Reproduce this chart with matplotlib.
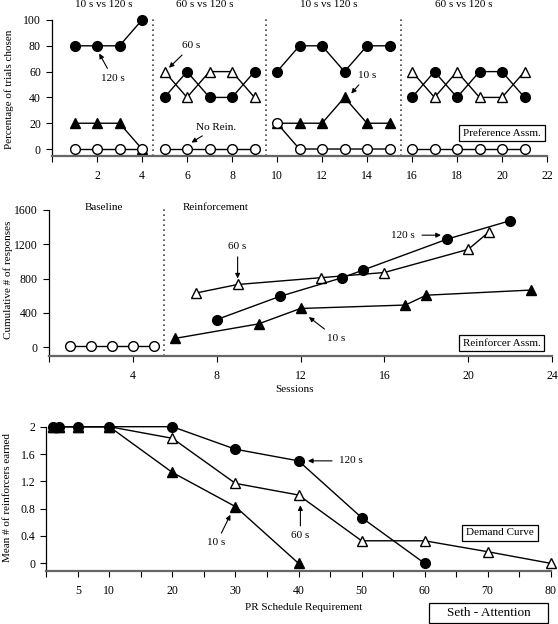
import matplotlib
matplotlib.use("Agg")
import matplotlib.pyplot as plt
from matplotlib.patches import Rectangle
import numpy as np

plt.rcParams['font.family'] = ['Liberation Serif', 'DejaVu Serif']
plt.rcParams['font.size'] = 8

# ---- Preference assessment (top) ----
pref_sessions = np.arange(1, 22)
pref_120 = [80, 80, 80, 100, 40, 60, 40, 40, 60, 60, 80, 80, 60, 80, 80, 40, 60, 40, 60, 60, 40]
pref_60_x = [5, 6, 7, 8, 9, 16, 17, 18, 19, 20, 21]
pref_60 = [60, 40, 60, 60, 40, 60, 40, 60, 40, 40, 60]
pref_10_x = [1, 2, 3, 4, 10, 11, 12, 13, 14, 15]
pref_10 = [20, 20, 20, 0, 20, 20, 20, 40, 20, 20]
pref_norein = [0, 0, 0, 0, 0, 0, 0, 0, 0, 20, 0, 0, 0, 0, 0, 0, 0, 0, 0, 0, 0]
pref_phases = [(1, 4), (5, 9), (10, 15), (16, 21)]
pref_phase_labels = ["10 s vs 120 s", "60 s vs 120 s", "10 s vs 120 s", "60 s vs 120 s"]
pref_phase_lines = [4.5, 9.5, 15.5]

# ---- Reinforcer assessment (middle) ----
base_x = [1, 2, 3, 4, 5]
base_y = [10, 10, 10, 10, 10]
r120_x = [8, 11, 14, 15, 19, 22]
r120_y = [320, 590, 810, 900, 1260, 1475]
r60_x = [7, 9, 13, 16, 20, 21]
r60_y = [630, 730, 810, 870, 1140, 1345]
r10_x = [6, 10, 12, 17, 18, 23]
r10_y = [100, 270, 450, 490, 605, 665]

# ---- Demand curve (bottom) ----
pr_120_x = [1, 2, 5, 10, 20, 30, 40, 50, 60]
pr_120_y = [2, 2, 2, 2, 2, 1.67, 1.5, 0.67, 0]
pr_60_x = [1, 2, 5, 10, 20, 30, 40, 50, 60, 70, 80]
pr_60_y = [2, 2, 2, 2, 1.83, 1.17, 1.0, 0.33, 0.33, 0.17, 0]
pr_10_x = [1, 2, 5, 10, 20, 30, 40]
pr_10_y = [2, 2, 2, 2, 1.33, 0.83, 0]

W, H = 558, 624
fig = plt.figure(figsize=(W / 100, H / 100), dpi=100)


def axes_px(left, right, bottom, top):
    return fig.add_axes([left / W, 1 - bottom / H, (right - left) / W, (bottom - top) / H])


def style(ax):
    for s in ['top', 'right']:
        ax.spines[s].set_visible(False)
    ax.spines['left'].set_linewidth(0.9)
    ax.spines['bottom'].set_color('#666666')
    ax.spines['bottom'].set_linewidth(1.6)
    ax.tick_params(direction='out', length=4, width=0.8, labelsize=8.5, pad=4)
    ax.tick_params(axis='x', pad=6)


mk = dict(markersize=7, markeredgewidth=1.0, clip_on=False, zorder=3)
circ_f = dict(marker='o', color='black', mfc='black', mec='black', **mk)
circ_o = dict(marker='o', color='black', mfc='white', mec='black', **mk)
tri_f = dict(marker='^', color='black', mfc='black', mec='black', **mk)
tri_o = dict(marker='^', color='black', mfc='white', mec='black', **mk)
arrow = dict(arrowstyle='-|>', color='black', lw=0.8, mutation_scale=7, shrinkA=2, shrinkB=0)
boxstyle = dict(boxstyle='square,pad=0.35', fc='white', ec='black', lw=0.9)

# ================= Top =================
ax1 = axes_px(52, 547, 156, 20)
style(ax1)
sess = list(pref_sessions)
for a, b in pref_phases:
    i0, i1 = sess.index(a), sess.index(b) + 1
    ax1.plot(sess[i0:i1], pref_120[i0:i1], lw=1, **circ_f)
    ax1.plot(sess[i0:i1], pref_norein[i0:i1], lw=1, **circ_o)
    xs = [x for x in pref_60_x if a <= x <= b]
    ys = [y for x, y in zip(pref_60_x, pref_60) if a <= x <= b]
    if xs:
        ax1.plot(xs, ys, lw=1, **tri_o)
    xs = [x for x in pref_10_x if a <= x <= b]
    ys = [y for x, y in zip(pref_10_x, pref_10) if a <= x <= b]
    if xs:
        ax1.plot(xs, ys, lw=1, zorder=2, **{k: v for k, v in tri_f.items() if k != 'zorder'})
for xv in pref_phase_lines:
    ax1.plot([xv, xv], [-5.4, 101], ls=(0, (1, 2)), color='#444444', lw=1.2, clip_on=False)
for (a, b), lab in zip(pref_phases, pref_phase_labels):
    ax1.text((a + b) / 2 - 0.2, 112, lab, ha='center', va='center', fontsize=8)
ax1.set_xlim(0, 22)
ax1.set_ylim(-5.4, 100)
ax1.set_xticks(np.arange(0, 23, 2))
ax1.set_xticklabels([''] + [str(v) for v in range(2, 23, 2)])
ax1.set_yticks([0, 20, 40, 60, 80, 100])
ax1.annotate('120 s', xy=(2.1, 74), xytext=(2.7, 55), ha='center', va='center', arrowprops=arrow)
ax1.annotate('60 s', xy=(5.2, 63), xytext=(6.2, 80), ha='center', va='center', arrowprops=arrow)
ax1.annotate('No Rein.', xy=(6.2, 5), xytext=(7.3, 17), ha='center', va='center', arrowprops=arrow)
ax1.annotate('10 s', xy=(13.3, 43), xytext=(14.0, 57), ha='center', va='center', arrowprops=arrow)
ax1.text(0.909, 0.169, 'Preference Assm.', transform=ax1.transAxes, ha='center', va='center',
         bbox=boxstyle)
fig.text(9 / W, 1 - 89 / H, 'Percentage of trials chosen', rotation=90, ha='center', va='center')

# ================= Middle =================
ax2 = axes_px(49, 552, 356, 210)
style(ax2)
ax2.plot(base_x, base_y, lw=1, **circ_o)
ax2.plot(r10_x, r10_y, lw=1, **tri_f)
ax2.plot(r60_x, r60_y, lw=1, **tri_o)
ax2.plot(r120_x, r120_y, lw=1, **circ_f)
ax2.plot([5.5, 5.5], [-105, 1640], ls=(0, (1, 2)), color='#444444', lw=1.2, clip_on=False)
ax2.text(2.6, 1680, 'Baseline', ha='center', va='top')
ax2.text(6.4, 1680, 'Reinforcement', ha='left', va='top')
ax2.set_xlim(0, 24)
ax2.set_ylim(-105, 1600)
ax2.set_xticks([0, 4, 8, 12, 16, 20, 24])
ax2.set_xticklabels(['', '4', '8', '12', '16', '20', '24'])
ax2.set_yticks([0, 400, 800, 1200, 1600])
ax2.annotate('60 s', xy=(9.0, 800), xytext=(9.0, 1170), ha='center', va='center', arrowprops=arrow)
ax2.annotate('120 s', xy=(18.7, 1306), xytext=(16.9, 1306), ha='center', va='center',
             arrowprops=dict(arrow, shrinkA=3))
ax2.annotate('10 s', xy=(12.4, 350), xytext=(13.7, 105), ha='center', va='center',
             arrowprops=arrow)
ax2.text(0.9, 0.089, 'Reinforcer Assm.', transform=ax2.transAxes, ha='center', va='center',
         bbox=boxstyle)
fig.text(8 / W, 1 - 280 / H, 'Cumulative # of responses', rotation=90, ha='center', va='center')
fig.text(294 / W, 1 - 390 / H, 'Sessions', ha='center', va='center')

# ================= Bottom =================
ax3 = axes_px(46.3, 550.7, 570.7, 426.7)
style(ax3)
ax3.plot(pr_10_x, pr_10_y, lw=1, **tri_f)
ax3.plot(pr_60_x, pr_60_y, lw=1, **tri_o)
ax3.plot(pr_120_x, pr_120_y, lw=1, **circ_f)
ax3.set_xlim(0, 80)
ax3.set_ylim(-0.108, 2)
ax3.set_xticks(np.arange(0, 81, 5))
ax3.set_xticklabels(['' if v in (0, 15, 25, 35, 45, 55, 65, 75) else str(v) for v in range(0, 81, 5)])
ax3.set_yticks([0, 0.4, 0.8, 1.2, 1.6, 2])
ax3.set_yticklabels(['0', '0.4', '0.8', '1.2', '1.6', '2'])
ax3.annotate('120 s', xy=(41.5, 1.5), xytext=(48.3, 1.5), ha='center', va='center',
             arrowprops=dict(arrow, shrinkA=3))
ax3.annotate('60 s', xy=(40.3, 0.85), xytext=(40.3, 0.4), ha='center', va='center',
             arrowprops=arrow)
ax3.annotate('10 s', xy=(29.2, 0.71), xytext=(27.0, 0.3), ha='center', va='center',
             arrowprops=arrow)
ax3.text(0.9, 0.262, 'Demand Curve', transform=ax3.transAxes, ha='center', va='center',
         bbox=boxstyle)
fig.text(8 / W, 1 - 497 / H, 'Mean # of reinforcers earned', rotation=90, ha='center', va='center')
fig.text(304 / W, 1 - 608 / H, 'PR Schedule Requirement', ha='center', va='center')

# name box in the bottom-right corner
fig.patches.append(Rectangle((429 / W, 1 - 623 / H), 119 / W, 20 / H, transform=fig.transFigure,
                             fc='white', ec='black', lw=0.9))
fig.text(488.5 / W, 1 - 613 / H, 'Seth - Attention', ha='center', va='center', fontsize=9.5)

fig.savefig('out.png', dpi=100)
